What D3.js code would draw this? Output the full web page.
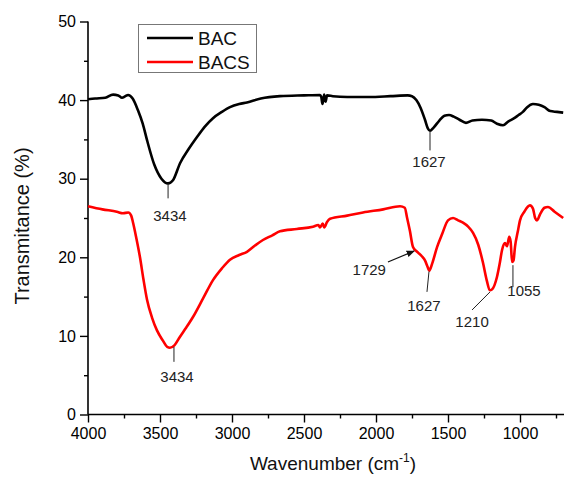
<!DOCTYPE html>
<html>
<head>
<meta charset="utf-8">
<script src="https://cdn.jsdelivr.net/npm/d3@7"></script>
<style>
  html, body { margin: 0; padding: 0; background: #fff; }
  svg { display: block; font-family: "Liberation Sans", Arial, sans-serif; }
</style>
</head>
<body>
<svg id="chart" width="564" height="477"></svg>
<script>
// Spectra: [wavenumber cm-1, transmittance %]
const bacData = [
  [4000,40.1],[3950,40.2],[3880,40.3],[3826,40.7],[3790,40.6],[3764,40.3],[3740,40.5],[3722,40.65],
  [3690,40.2],[3653,38.7],[3620,37.0],[3590,34.9],[3540,31.8],[3490,30.0],[3444,29.4],[3410,29.8],
  [3360,32.0],[3300,33.8],[3243,35.3],[3190,36.6],[3132,37.7],[3070,38.5],[3014,39.1],[2950,39.5],
  [2896,39.7],[2800,40.2],[2667,40.5],[2500,40.6],[2389,40.65],[2380,40.4],[2372,39.5],[2365,40.0],
  [2360,40.7],[2350,39.8],[2340,40.6],[2300,40.5],[2200,40.4],[2050,40.4],[1900,40.5],[1780,40.6],
  [1750,40.5],[1720,40.0],[1690,39.0],[1660,37.5],[1640,36.4],[1625,36.1],[1600,36.5],[1560,37.4],
  [1525,38.0],[1493,38.1],[1460,37.9],[1420,37.5],[1375,37.1],[1330,37.4],[1264,37.5],[1200,37.4],
  [1160,37.0],[1118,36.8],[1080,37.3],[1040,37.7],[1010,38.1],[980,38.5],[950,39.1],[910,39.5],
  [870,39.4],[830,39.1],[790,38.6],[743,38.5],[700,38.4]
];
const bacsData = [
  [4000,26.5],[3900,26.1],[3800,25.8],[3757,25.6],[3720,25.7],[3700,25.3],[3687,24.4],[3665,22.5],
  [3639,20.0],[3615,17.2],[3590,14.6],[3555,12.3],[3521,10.7],[3480,9.4],[3450,8.6],[3431,8.5],
  [3400,8.8],[3361,9.9],[3320,11.0],[3271,12.4],[3200,14.8],[3132,17.1],[3070,18.6],[3014,19.7],
  [2950,20.3],[2896,20.7],[2840,21.5],[2785,22.2],[2720,22.8],[2667,23.3],[2550,23.6],[2438,23.9],
  [2400,24.1],[2389,23.8],[2370,24.3],[2360,23.8],[2340,24.5],[2319,24.9],[2200,25.3],[2090,25.7],
  [1950,26.1],[1833,26.5],[1800,26.3],[1785,25.1],[1765,23.4],[1743,21.3],[1720,20.8],[1708,20.6],
  [1680,20.1],[1660,19.6],[1640,18.7],[1630,18.3],[1610,19.2],[1576,21.3],[1540,23.0],[1500,24.7],
  [1465,25.0],[1430,24.7],[1396,24.4],[1360,23.9],[1326,23.1],[1290,21.6],[1257,19.3],[1230,17.0],
  [1210,15.8],[1195,15.9],[1160,17.5],[1140,19.3],[1125,20.9],[1104,21.8],[1090,21.4],[1075,22.6],
  [1065,22.0],[1055,19.4],[1045,19.6],[1035,21.3],[1015,23.3],[1000,24.7],[970,25.8],[931,26.6],
  [910,26.2],[895,25.0],[882,24.7],[860,25.5],[830,26.3],[806,26.4],[760,25.8],[700,25.0]
];
const seriesNames = ["BAC", "BACS"];
const xTicks = [4000, 3500, 3000, 2500, 2000, 1500, 1000];
const yTicks = [0, 10, 20, 30, 40, 50];

// Peak labels: leader line from (x1,y1) to (x2,y2), text at (tx,ty), all in data units
const peakLabels = [
  {text: "3434", x1: 3444, y1: 29.4, x2: 3444, y2: 27.5, tx: 3431, ty: 24.6},
  {text: "1627", x1: 1625, y1: 36.0, x2: 1625, y2: 33.6, tx: 1632, ty: 31.5},
  {text: "3434", x1: 3403, y1: 8.6, x2: 3403, y2: 6.7, tx: 3382, ty: 4.1},
  {text: "1627", x1: 1632, y1: 18.2, x2: 1646, y2: 15.6, tx: 1667, ty: 13.2},
  {text: "1210", x1: 1208, y1: 15.6, x2: 1333, y2: 13.3, tx: 1333, ty: 11.1},
  {text: "1055", x1: 1049, y1: 19.0, x2: 1049, y2: 16.2, tx: 972, ty: 15.1}
];
const arrowLabel = {text: "1729", x1: 1917, y1: 19.4, x2: 1735, y2: 20.8, tx: 1931, ty: 17.75};

const svg = d3.select("#chart");
const marginLeft = 88, plotTop = 21.5, plotBottom = 414.5;

const x = d3.scaleLinear().domain([4000, 650]).range([marginLeft, marginLeft + 3350 * 0.144]);
const y = d3.scaleLinear().domain([0, 50]).range([plotBottom, plotTop]);

// axes
const xAxis = svg.append("g").attr("transform", `translate(0,${plotBottom})`)
  .call(d3.axisBottom(x).tickValues(xTicks).tickSize(8).tickPadding(5).tickFormat(d3.format("d")));
svg.append("g").attr("transform", `translate(0,${plotBottom})`)
  .call(d3.axisBottom(x).tickValues(d3.range(3750, 600, -500)).tickSize(4).tickFormat(""))
  .select(".domain").remove();
const yAxis = svg.append("g").attr("transform", `translate(${marginLeft},0)`)
  .call(d3.axisLeft(y).tickValues(yTicks).tickSize(8).tickPadding(4));
svg.append("g").attr("transform", `translate(${marginLeft},0)`)
  .call(d3.axisLeft(y).tickValues([5, 15, 25, 35, 45]).tickSize(4).tickFormat(""))
  .select(".domain").remove();

svg.selectAll(".domain").attr("stroke", "#000").attr("stroke-width", 1.6);
svg.selectAll(".tick line").attr("stroke", "#000").attr("stroke-width", 1.4);
svg.selectAll(".tick text").attr("font-size", 16).attr("fill", "#000")
  .attr("font-family", "Liberation Sans, Arial, sans-serif");
xAxis.select(".domain").attr("d", `M${marginLeft},0H564`);
yAxis.select(".domain").attr("d", `M0,${y(50)}V${plotBottom}`);

// spectra
const line = d3.line().x(d => x(d[0])).y(d => y(d[1])).curve(d3.curveMonotoneX);
const colors = ["#000000", "#ff0000"];
[bacData, bacsData].forEach((data, i) => {
  svg.append("path").datum(data)
    .attr("fill", "none").attr("stroke", colors[i])
    .attr("stroke-width", 2.6).attr("stroke-linejoin", "round")
    .attr("d", line);
});

// peak labels
const ann = svg.append("g").attr("font-size", 15).attr("fill", "#222");
peakLabels.forEach(p => {
  ann.append("line")
    .attr("x1", x(p.x1)).attr("y1", y(p.y1)).attr("x2", x(p.x2)).attr("y2", y(p.y2))
    .attr("stroke", "#222").attr("stroke-width", 1);
  ann.append("text").attr("x", x(p.tx)).attr("y", y(p.ty))
    .attr("text-anchor", "middle").text(p.text);
});

// arrow label
svg.append("defs").append("marker")
  .attr("id", "arrow").attr("viewBox", "0 0 10 10").attr("refX", 9).attr("refY", 5)
  .attr("markerWidth", 7).attr("markerHeight", 7).attr("orient", "auto")
  .append("path").attr("d", "M0,1L10,5L0,9Z").attr("fill", "#111");
ann.append("line")
  .attr("x1", x(arrowLabel.x1)).attr("y1", y(arrowLabel.y1))
  .attr("x2", x(arrowLabel.x2)).attr("y2", y(arrowLabel.y2))
  .attr("stroke", "#111").attr("stroke-width", 1.2).attr("marker-end", "url(#arrow)");
ann.append("text").attr("x", x(arrowLabel.tx)).attr("y", y(arrowLabel.ty))
  .attr("text-anchor", "end").text(arrowLabel.text);

// legend
const legend = svg.append("g");
legend.append("rect").attr("x", 138.5).attr("y", 24.5).attr("width", 118).attr("height", 48)
  .attr("fill", "#fff").attr("stroke", "#777").attr("stroke-width", 1);
seriesNames.forEach((name, i) => {
  const ly = 38 + i * 24;
  legend.append("line").attr("x1", 147).attr("x2", 193).attr("y1", ly).attr("y2", ly)
    .attr("stroke", colors[i]).attr("stroke-width", 2.6);
  legend.append("text").attr("x", 198).attr("y", ly + 6.5)
    .attr("font-size", 19).attr("fill", "#111").text(name);
});

// axis titles
svg.append("text")
  .attr("transform", "translate(29,226) rotate(-90)")
  .attr("text-anchor", "middle").attr("font-size", 20).attr("fill", "#111")
  .text("Transmitance (%)");
const xt = svg.append("text").attr("x", 333).attr("y", 470)
  .attr("text-anchor", "middle").attr("font-size", 19).attr("fill", "#111");
xt.append("tspan").text("Wavenumber (cm");
xt.append("tspan").attr("font-size", 12).attr("dy", -8).text("-1");
xt.append("tspan").attr("dy", 8).text(")");
</script>
</body>
</html>
